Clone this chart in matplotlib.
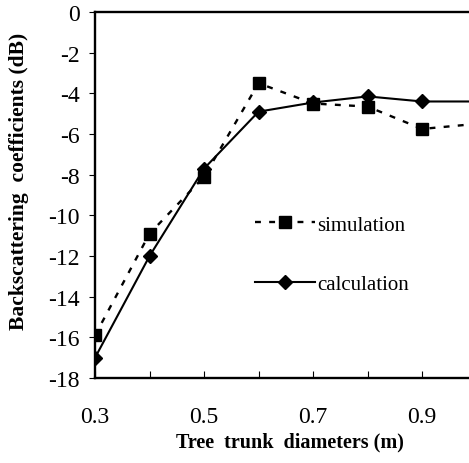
import matplotlib.pyplot as plt
from matplotlib.ticker import FixedLocator

diameters = [0.3, 0.4, 0.5, 0.6, 0.7, 0.8, 0.9, 1.0]
simulation = [-15.9, -10.9, -8.1, -3.5, -4.5, -4.65, -5.75, -5.5]
calculation = [-17.0, -12.0, -7.7, -4.9, -4.45, -4.15, -4.4, -4.4]
x_labels = [0.3, 0.5, 0.7, 0.9]
y_ticks = list(range(-18, 1, 2))

plt.rcParams["font.family"] = ["Liberation Serif", "DejaVu Serif"]

fig = plt.figure(figsize=(4.69, 4.64), dpi=100)
ax = fig.add_axes([0.2026, 0.183, 0.7974, 0.789])

ax.plot(diameters, simulation, color="black", linestyle=(0, (2.5, 3.5)), linewidth=1.7,
        marker="s", markersize=8.5, label="simulation")
ax.plot(diameters, calculation, color="black", linestyle="-", linewidth=1.5,
        marker="D", markersize=7, label="calculation")

ax.set_xlim(0.3, 0.986)
ax.set_ylim(-18, 0)

ax.set_xticks(x_labels)
ax.set_xticklabels([f"{v:.1f}" for v in x_labels])
ax.xaxis.set_minor_locator(FixedLocator([0.4, 0.6, 0.8]))
ax.tick_params(axis="x", which="both", direction="in", length=5, width=0.8,
               labelsize=17, pad=20)
ax.set_yticks(y_ticks)
ax.set_yticklabels([str(v) for v in y_ticks])
ax.tick_params(axis="y", direction="out", length=4, width=0.8, labelsize=17, pad=7)

ax.spines["right"].set_visible(False)
for side in ["left", "bottom", "top"]:
    ax.spines[side].set_linewidth(1.7)

ax.set_xlabel("Tree  trunk  diameters (m)", fontsize=14.5, fontweight="bold")
ax.xaxis.set_label_coords(0.522, -0.145)
ax.set_ylabel("Backscattering  coefficients (dB)", fontsize=15.5, fontweight="bold")
ax.yaxis.set_label_coords(-0.176, 0.54)

ax.legend(frameon=False, loc="upper left", bbox_to_anchor=(0.428, 0.445),
          borderpad=0, borderaxespad=0, fontsize=15, labelspacing=1.9,
          handlelength=2.9, handletextpad=0.1)

fig.savefig("out.png", dpi=100)
